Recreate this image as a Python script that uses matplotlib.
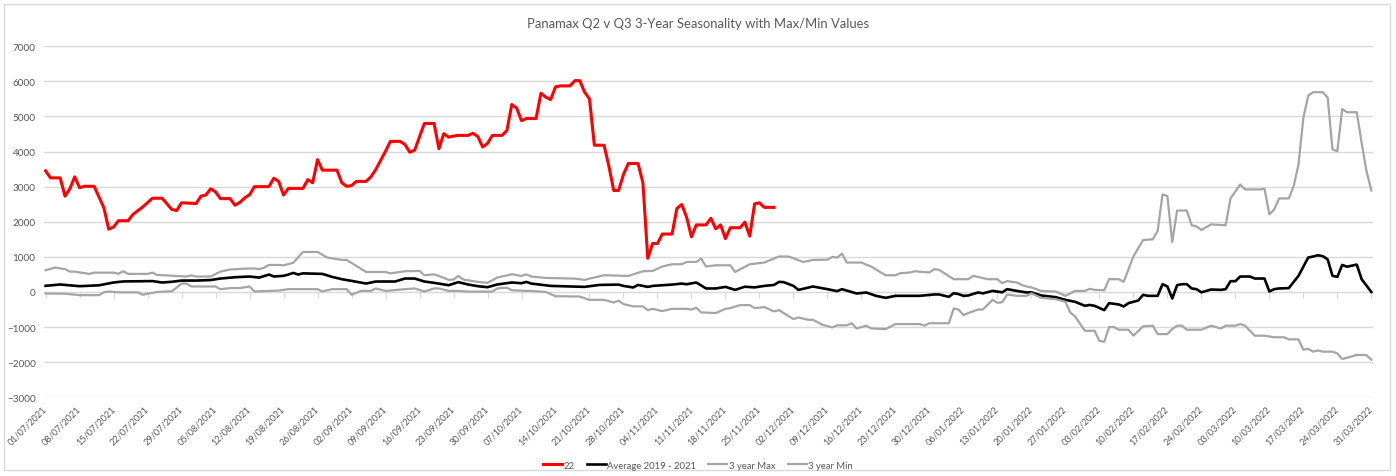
import numpy as np
import pandas as pd
import matplotlib
matplotlib.use("Agg")
import matplotlib.pyplot as plt
import matplotlib.dates as mdates
from matplotlib.patches import Rectangle

# day offsets from 01/07/2021 and values
start = pd.Timestamp("2021-07-01")

red_days = [0, 1, 3, 4, 5, 6, 7, 8, 10, 12, 13, 14, 15, 17, 18, 20, 22, 24, 26, 27,
            28, 31, 32, 33, 34, 35, 36, 38, 39, 40, 41, 42, 43, 46, 47, 48, 49, 50, 53, 54,
            55, 56, 57, 60, 61, 62, 63, 64, 66, 67, 68, 70, 71, 73, 74, 75, 76, 78, 80, 81,
            82, 83, 84, 85, 87, 88, 89, 90, 91, 92, 94, 95, 96, 97, 98, 99, 101, 102, 103, 104,
            105, 106, 108, 109, 110, 111, 112, 113, 115, 116, 117, 118, 119, 120, 122, 123, 124, 125, 126, 127,
            129, 130, 131, 132, 133, 134, 136, 137, 138, 139, 140, 141, 143, 144, 145, 146, 147, 148, 150]
red_vals = [3450, 3250, 3250, 2730, 2940, 3280, 2970, 3010, 3010, 2400, 1790, 1850, 2030, 2030, 2210, 2420, 2670, 2670, 2350, 2320,
            2540, 2520, 2730, 2760, 2940, 2850, 2660, 2660, 2470, 2550, 2680, 2770, 3000, 3000, 3240, 3150, 2760, 2950, 2950, 3200,
            3110, 3770, 3470, 3470, 3110, 3010, 3030, 3150, 3150, 3280, 3490, 4010, 4290, 4290, 4200, 3980, 4040, 4800, 4800, 4080,
            4510, 4410, 4440, 4460, 4460, 4520, 4430, 4130, 4230, 4460, 4460, 4600, 5340, 5240, 4880, 4940, 4940, 5660, 5550, 5480,
            5840, 5870, 5870, 6020, 6020, 5690, 5500, 4180, 4180, 3580, 2890, 2890, 3350, 3660, 3660, 3110, 960, 1380, 1380, 1650,
            1650, 2380, 2490, 2130, 1570, 1910, 1910, 2100, 1800, 1910, 1520, 1830, 1830, 1990, 1590, 2510, 2540, 2410, 2410]

avg_days = [0, 3, 7, 11, 14, 16, 22, 24, 26, 28, 31, 34, 36, 39, 42, 44, 46, 47, 49, 50,
            51, 52, 53, 57, 59, 61, 63, 66, 68, 72, 74, 76, 78, 80, 83, 85, 87, 89, 91, 93,
            96, 98, 99, 100, 104, 111, 114, 118, 119, 121, 122, 124, 125, 129, 131, 132, 134, 136, 138, 140,
            142, 144, 146, 148, 150, 151, 152, 154, 155, 156, 158, 161, 163, 164, 167, 169, 171, 173, 175, 180,
            183, 184, 186, 187, 188, 189, 190, 192, 193, 195, 197, 198, 200, 202, 203, 205, 208, 210, 212, 214,
            215, 216, 218, 219, 221, 222, 223, 225, 226, 227, 229, 230, 231, 232, 233, 234, 235, 236, 237, 238,
            240, 242, 243, 244, 245, 246, 248, 249, 251, 252, 253, 254, 256, 258, 260, 261, 262, 263, 264, 265,
            266, 267, 268, 270, 271, 273]
avg_vals = [175, 213, 165, 190, 270, 300, 310, 270, 290, 325, 325, 340, 383, 420, 440, 410, 497, 440, 460, 497,
            543, 497, 530, 515, 430, 364, 316, 240, 298, 298, 383, 383, 298, 260, 193, 280, 213, 165, 136, 213,
            270, 250, 287, 240, 173, 145, 200, 210, 173, 128, 200, 145, 173, 210, 240, 220, 270, 100, 100, 145,
            60, 150, 130, 173, 200, 287, 280, 173, 60, 90, 156, 80, 23, 80, -43, -15, -110, -167, -110, -110,
            -71, -71, -138, -34, -60, -110, -100, -14, -40, 31, -10, 80, 30, -14, -10, -100, -148, -224, -280, -394,
            -370, -394, -517, -318, -356, -413, -318, -242, -82, -110, -110, 222, 156, -186, 193, 222, 222, 100, 80, -10,
            70, 60, 80, 307, 307, 440, 440, 383, 383, 14, 80, 100, 110, 460, 980, 1010, 1045, 1020, 930, 460,
            430, 770, 720, 780, 364, 0]

max_days = [0, 2, 4, 5, 6, 9, 10, 14, 15, 16, 17, 21, 22, 23, 29, 30, 31, 34, 36, 38,
            41, 43, 44, 45, 46, 48, 49, 51, 53, 56, 58, 61, 62, 66, 70, 71, 74, 77, 78, 80,
            81, 83, 84, 85, 86, 89, 91, 93, 96, 98, 99, 100, 103, 109, 111, 112, 115, 120, 123, 125,
            127, 129, 131, 132, 134, 135, 136, 138, 141, 142, 145, 148, 151, 153, 156, 158, 161, 162, 163, 164,
            165, 168, 170, 172, 173, 175, 176, 178, 179, 182, 183, 184, 187, 190, 191, 192, 194, 196, 197, 198,
            200, 201, 202, 203, 205, 208, 210, 212, 214, 215, 216, 218, 219, 221, 222, 224, 226, 228, 229, 230,
            231, 232, 233, 235, 236, 237, 238, 240, 243, 244, 246, 247, 250, 251, 252, 253, 254, 256, 257, 258,
            259, 260, 261, 263, 264, 265, 266, 267, 268, 270, 271, 272, 273]
max_vals = [620, 695, 650, 580, 580, 515, 550, 550, 520, 590, 515, 515, 550, 486, 440, 470, 440, 440, 580, 640,
            665, 670, 650, 690, 770, 770, 760, 830, 1140, 1140, 980, 912, 912, 570, 570, 530, 590, 600, 477, 500,
            457, 344, 355, 457, 355, 287, 260, 410, 505, 457, 500, 440, 400, 380, 344, 380, 477, 457, 590, 600,
            725, 790, 790, 855, 855, 950, 725, 760, 760, 570, 790, 838, 1010, 1010, 855, 912, 920, 1000, 980, 1090,
            838, 838, 725, 555, 477, 477, 534, 555, 590, 555, 648, 630, 364, 364, 457, 430, 364, 364, 250, 310,
            270, 200, 156, 130, 30, 14, -110, 30, 30, 90, 60, 50, 364, 364, 290, 1010, 1480, 1500, 1740, 2780,
            2730, 1420, 2320, 2320, 1900, 1870, 1765, 1925, 1900, 2665, 3060, 2920, 2920, 2940, 2210, 2350, 2665, 2665, 3015, 3630,
            4960, 5590, 5690, 5690, 5540, 4060, 4010, 5210, 5120, 5120, 4250, 3440, 2890]

min_days = [0, 4, 7, 11, 12, 13, 15, 19, 20, 21, 23, 26, 27, 28, 29, 30, 35, 36, 38, 40,
            42, 43, 48, 50, 54, 56, 57, 59, 62, 63, 65, 67, 68, 70, 74, 76, 78, 80, 81, 83,
            85, 87, 92, 93, 94, 95, 96, 99, 100, 103, 105, 110, 112, 115, 117, 118, 119, 121, 123, 124,
            125, 127, 129, 132, 133, 134, 135, 138, 140, 141, 143, 145, 146, 148, 150, 151, 154, 155, 157, 158,
            160, 162, 163, 165, 166, 167, 169, 170, 173, 175, 180, 181, 182, 186, 187, 188, 189, 190, 192, 193,
            195, 196, 197, 198, 200, 202, 203, 205, 208, 210, 211, 212, 214, 216, 217, 218, 219, 220, 221, 223,
            224, 226, 228, 229, 231, 232, 233, 234, 235, 238, 240, 242, 243, 245, 246, 247, 249, 251, 253, 255,
            256, 258, 259, 260, 261, 262, 263, 265, 266, 267, 269, 270, 272, 273]
min_vals = [-43, -50, -90, -90, -10, 14, -10, -10, -80, -50, 0, 20, 125, 240, 240, 156, 156, 80, 110, 110,
            156, 14, 40, 80, 80, 80, 14, 80, 80, -80, 31, 31, 100, 30, 80, 100, 14, 100, 100, 30,
            30, 10, 10, 100, 117, 117, 50, 30, 30, 0, -120, -130, -224, -224, -300, -250, -345, -410, -410, -517,
            -480, -545, -480, -480, -500, -450, -583, -600, -480, -460, -375, -375, -460, -430, -555, -517, -773, -725, -792, -792,
            -935, -1010, -950, -950, -890, -1040, -960, -1040, -1057, -915, -915, -960, -890, -890, -470, -500, -660, -600, -500, -500,
            -224, -310, -290, -71, -110, -110, -40, -167, -205, -280, -583, -697, -1105, -1105, -1390, -1420, -1000, -1000, -1075, -1075,
            -1245, -980, -960, -1200, -1200, -1057, -960, -960, -1075, -1075, -960, -1040, -960, -960, -915, -960, -1245, -1245, -1290, -1290,
            -1350, -1350, -1645, -1620, -1700, -1665, -1700, -1700, -1750, -1910, -1835, -1790, -1800, -1930]

series = [
    ("22", red_days, red_vals, "#FF0000", 2.2),
    ("Average 2019 - 2021", avg_days, avg_vals, "#000000", 1.9),
    ("3 year Max", max_days, max_vals, "#A5A5A5", 1.6),
    ("3 year Min", min_days, min_vals, "#A5A5A5", 1.6),
]

plt.rcParams["font.family"] = ["Lato", "DejaVu Sans"]
text_grey = "#595959"
grid_grey = "#D9D9D9"

fig = plt.figure(figsize=(13.96, 4.77), dpi=100)
ax = fig.add_axes([0.0315, 0.165, 0.952, 0.736])

for name, days, vals, col, lw in series:
    dates = start + pd.to_timedelta(days, unit="D")
    ax.plot(dates, vals, color=col, lw=lw, label=name, solid_joinstyle="round")

ymin, ymax = -3000, 7000
ax.set_ylim(ymin, ymax)
ax.set_yticks(np.arange(ymin, ymax + 1, 1000))
end = pd.Timestamp("2022-03-31")
ax.set_xlim(start - pd.Timedelta(hours=8), end + pd.Timedelta(hours=8))

ticks = pd.date_range(start, end, freq="7D")
ax.set_xticks(ticks)
ax.xaxis.set_major_formatter(mdates.DateFormatter("%d/%m/%Y"))
ax.tick_params(axis="x", length=0, pad=7, labelsize=6.6, labelcolor=text_grey)
ax.tick_params(axis="y", length=0, pad=6, labelsize=7.2, labelcolor=text_grey)
for lab in ax.get_xticklabels():
    lab.set_rotation(45)
    lab.set_ha("right")
    lab.set_va("center")
    lab.set_rotation_mode("anchor")

ax.yaxis.grid(True, color=grid_grey, lw=1)
ax.set_axisbelow(True)
for s in ax.spines.values():
    s.set_visible(False)

# category axis line crossing at zero, with tick marks
zero_pos = (0 - ymin) / (ymax - ymin)
sec = ax.secondary_xaxis(zero_pos)
sec.set_xticks(ticks)
sec.tick_params(axis="x", direction="out", length=4, color=grid_grey, labelbottom=False,
                labeltop=False, bottom=True, top=False)
sec.spines["bottom"].set_color(grid_grey)
sec.spines["top"].set_visible(False)
for k in ("left", "right"):
    sec.spines[k].set_visible(False)

fig.suptitle("Panamax Q2 v Q3 3-Year Seasonality with Max/Min Values", x=0.5, y=0.962,
             fontsize=9.4, color=text_grey)

fig.legend(loc="center", bbox_to_anchor=(0.5, 0.023), ncol=4, frameon=False, fontsize=6.8,
           handlelength=2.0, handletextpad=0.15, columnspacing=1.3, labelcolor=text_grey)

fig.patches.append(Rectangle((0.003, 0.012), 0.993, 0.978, transform=fig.transFigure,
                             fill=False, ec=grid_grey, lw=1))

fig.savefig("out.png", dpi=100)
